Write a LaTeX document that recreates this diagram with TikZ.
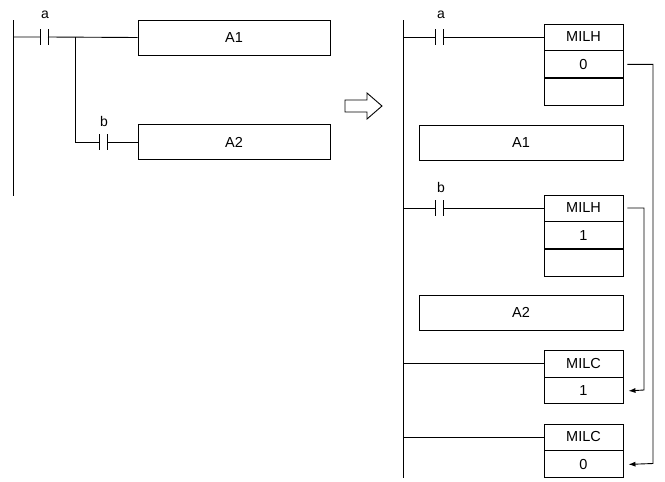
\documentclass[tikz,border=0pt]{standalone}
\usepackage{fontspec}
\setmainfont{Liberation Sans}
\usetikzlibrary{arrows.meta}
\tikzset{
  box/.style={rectangle, draw=black, line width=0.9pt, inner sep=0pt, font=\fontsize{14.5}{16}\selectfont},
  wire/.style={line width=0.9pt},
  lbl/.style={font=\fontsize{14}{16}\selectfont, inner sep=0pt},
  link/.style={line width=0.9pt, -{Latex[length=7pt,width=5pt]}}
}
\newcommand{\contact}[3]{% name, x, y
  \coordinate (#1l) at (#2,#3);
  \coordinate (#1r) at (#2+8,#3);
  \draw[wire] (#2,#3-8) -- (#2,#3+8) (#2+8,#3-8) -- (#2+8,#3+8);
}
\begin{document}
\begin{tikzpicture}[x=1pt,y=-1pt]
\useasboundingbox (0,0) rectangle (665,482);
% before
\draw[wire] (13,20) -- (13,196);
\contact{ca}{40}{37}
\node[lbl] at (45,15) {a};
\node (a1) [box, minimum width=192pt, minimum height=35pt] at (234,37.5) {A1};
\node (a2) [box, minimum width=192pt, minimum height=35pt] at (234,142) {A2};
\contact{cb}{99}{142}
\node[lbl] at (104,121) {b};
\draw[wire] (13,37) -- (cal) (car) -- (a1.west);
\draw[wire] (75,37) |- (cbl);
\draw[wire] (cbr) -- (a2.west);
% conversion arrow
\coordinate (conv) at (345,106);
\draw[line width=0.9pt] (conv) ++(0,-6) -- ++(22,0) -- ++(0,-7) -- ++(15,13) -- ++(-15,13) -- ++(0,-7) -- ++(-22,0) -- cycle;
% after
\draw[wire] (403,20) -- (403,478);
\contact{cc}{435}{37}
\node[lbl] at (441,15) {a};
\node (h0a) [box, minimum width=79pt, minimum height=26pt] at (583.5,37) {MILH};
\node (h0b) [box, minimum width=79pt, minimum height=27pt, anchor=north] at (h0a.south) {0};
\node (h0c) [box, minimum width=79pt, minimum height=27pt, anchor=north] at (h0b.south) {};
\node (b1) [box, minimum width=204pt, minimum height=35pt] at (521,142.5) {A1};
\contact{cd}{435}{208}
\node[lbl] at (441,187) {b};
\node (h1a) [box, minimum width=79pt, minimum height=26pt] at (583.5,208) {MILH};
\node (h1b) [box, minimum width=79pt, minimum height=27pt, anchor=north] at (h1a.south) {1};
\node (h1c) [box, minimum width=79pt, minimum height=27pt, anchor=north] at (h1b.south) {};
\node (b2) [box, minimum width=204pt, minimum height=35pt] at (521,312.5) {A2};
\node (c1a) [box, minimum width=79pt, minimum height=27pt] at (583.5,363.5) {MILC};
\node (c1b) [box, minimum width=79pt, minimum height=26pt, anchor=north] at (c1a.south) {1};
\node (c0a) [box, minimum width=79pt, minimum height=26pt] at (583.5,437) {MILC};
\node (c0b) [box, minimum width=79pt, minimum height=27pt, anchor=north] at (c0a.south) {0};
\draw[wire] (403,37) -- (ccl) (ccr) -- (h0a.west);
\draw[wire] (403,208) -- (cdl) (cdr) -- (h1a.west);
\draw[wire] (403,363.5) -- (c1a.west);
\draw[wire] (403,437) -- (c0a.west);
\draw[link] ([xshift=4pt]h0b.east) -| (653,463.5) -- ([xshift=5pt]c0b.east);
\draw[link] ([xshift=4pt]h1a.east) -| (644,390) -- ([xshift=5pt]c1b.east);
\end{tikzpicture}
\end{document}
